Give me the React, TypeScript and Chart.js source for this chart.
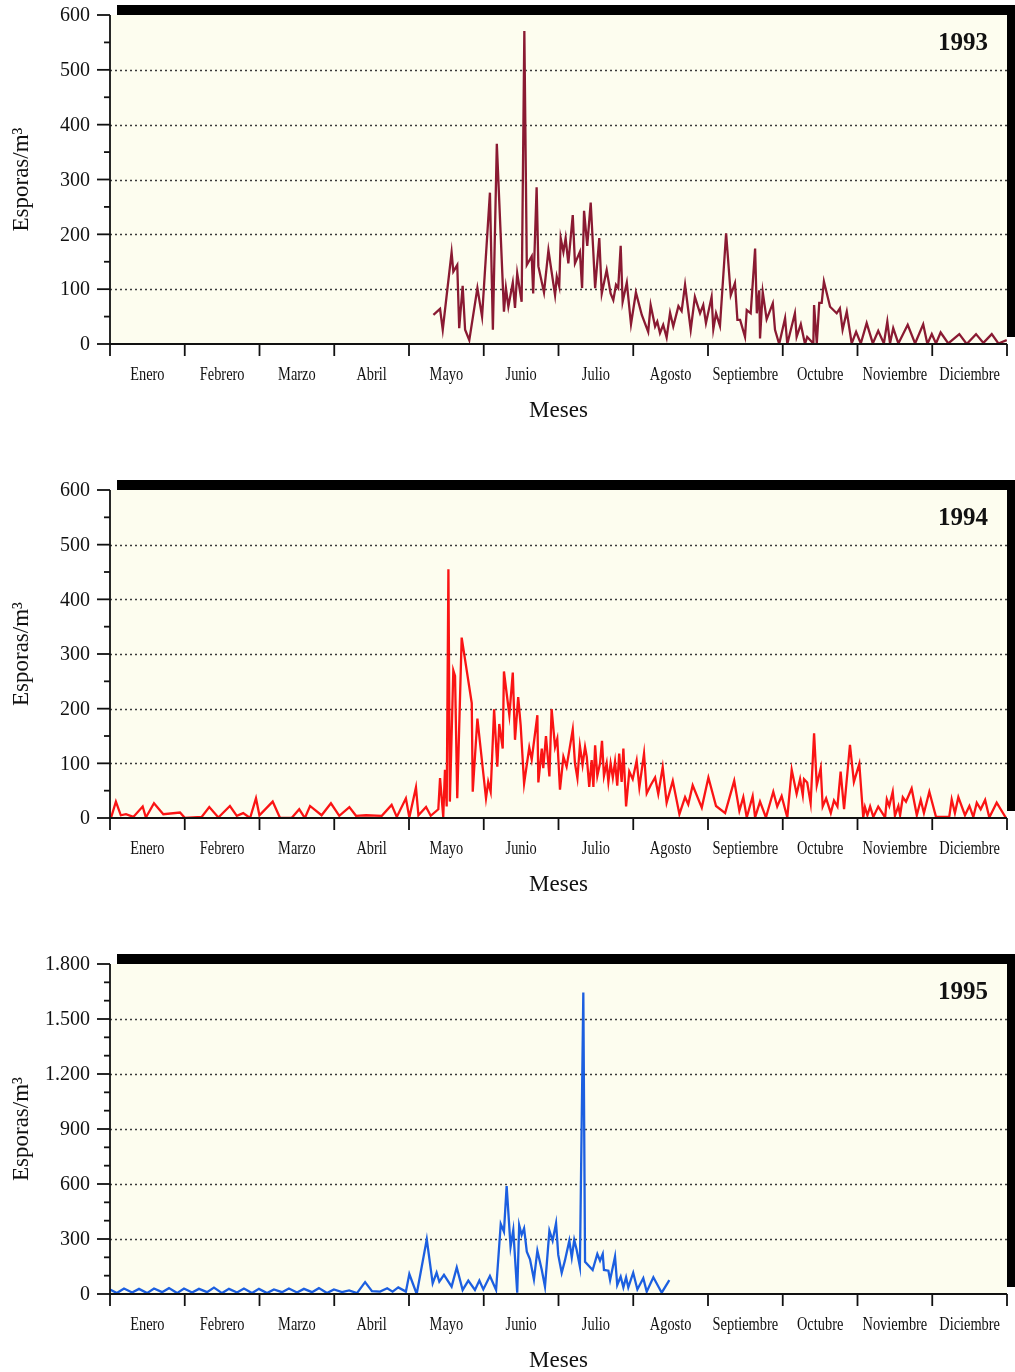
import React, { useEffect, useRef } from "react";
import { Chart, registerables } from "chart.js";
Chart.register(...registerables);

const MONTHS = ["Enero", "Febrero", "Marzo", "Abril", "Mayo", "Junio", "Julio", "Agosto", "Septiembre", "Octubre", "Noviembre", "Diciembre"];
const X_TITLE = "Meses";
const Y_TITLE = "Esporas/m³";
const YEAR_DAYS = 365;

const TICKS_600 = [0, 100, 200, 300, 400, 500, 600];
const TICKS_1800 = [0, 300, 600, 900, 1200, 1500, 1800];

// [day of year, spores/m3]
const DATA_1993: number[][] = [
  [131.6, 53], [134.3, 64], [135.4, 26], [139.0, 167], [139.7, 132], [141.3, 144], [142.1, 29], [143.5, 106], [144.5, 26], [146.2, 7],
  [149.5, 102], [151.4, 50], [154.6, 276], [155.8, 26], [157.4, 365], [160.3, 59], [161.1, 102], [162.1, 68], [163.9, 112], [164.8, 66],
  [165.7, 129], [167.5, 77], [168.6, 571], [169.6, 144], [171.6, 160], [172.2, 92], [173.6, 286], [174.3, 142], [176.6, 94], [178.4, 171],
  [181.1, 89], [181.8, 123], [182.8, 105], [183.4, 193], [184.5, 168], [185.4, 193], [186.5, 147], [188.3, 235], [189.2, 147], [191.2, 168],
  [192.1, 102], [192.9, 243], [194.2, 179], [195.6, 258], [196.7, 165], [197.4, 102], [199.1, 193], [200.1, 92], [202.1, 135], [203.7, 92],
  [204.8, 80], [205.9, 108], [206.8, 102], [207.8, 179], [208.6, 77], [210.3, 112], [212.0, 36], [214.0, 94], [216.4, 53], [219.0, 22],
  [220.0, 71], [221.8, 32], [222.7, 41], [223.8, 20], [225.1, 35], [226.5, 12], [227.9, 57], [229.2, 32], [231.3, 69], [232.6, 60],
  [234.0, 108], [236.3, 26], [238.0, 86], [240.1, 56], [241.4, 71], [242.5, 38], [244.8, 86], [245.5, 27], [246.6, 56], [248.2, 33],
  [250.7, 202], [252.6, 89], [254.3, 111], [255.3, 44], [256.4, 44], [258.4, 13], [259.1, 62], [260.7, 56], [262.5, 174], [263.2, 56],
  [264.2, 98], [264.5, 10], [265.6, 95], [267.2, 45], [269.7, 74], [270.6, 26], [272.3, 0], [274.7, 47], [275.6, 0], [278.7, 56],
  [279.4, 13], [281.1, 36], [282.8, 0], [283.7, 13], [286.2, 1], [286.5, 71], [287.6, 1], [288.6, 75], [289.6, 75], [290.5, 114],
  [293.0, 68], [295.7, 56], [297.0, 65], [298.1, 26], [299.8, 59], [301.8, 1], [303.6, 22], [305.5, 1], [307.9, 38], [310.4, 1],
  [312.6, 24], [314.9, 1], [316.3, 41], [317.4, 1], [318.7, 29], [320.8, 1], [324.6, 35], [327.6, 1], [330.9, 36], [332.6, 0],
  [334.4, 18], [336.1, 1], [338.0, 21], [341.1, 1], [345.6, 18], [348.6, 0], [352.4, 18], [355.4, 2], [358.8, 18], [361.5, 1], [364.9, 7],
];

const DATA_1994: number[][] = [
  [0.4, 0], [2.4, 30], [4.4, 5], [6.5, 7], [9.5, 2], [13.3, 21], [14.6, 1], [17.9, 27], [21.7, 7], [28.5, 10],
  [30.5, 0], [37.3, 2], [40.4, 20], [44.1, 1], [48.8, 22], [51.6, 4], [54.2, 9], [57.0, 0], [59.4, 36], [60.8, 5],
  [66.2, 30], [69.2, 0], [73.9, 0], [77.0, 16], [79.3, 0], [81.4, 22], [86.1, 5], [89.9, 27], [93.3, 4], [97.4, 20],
  [100.1, 4], [104.2, 5], [110.6, 4], [114.6, 24], [116.7, 2], [120.4, 36], [121.8, 1], [124.5, 56], [125.5, 5], [128.6, 20],
  [130.5, 4], [133.6, 16], [134.3, 73], [135.6, 2], [136.3, 88], [137.0, 21], [137.7, 455], [138.3, 30], [139.7, 270], [140.4, 260],
  [141.3, 36], [143.1, 330], [147.2, 210], [147.6, 48], [149.5, 182], [153.0, 36], [153.9, 66], [154.9, 48], [156.3, 199], [157.6, 94],
  [158.4, 172], [159.8, 127], [160.3, 268], [162.5, 188], [163.9, 266], [164.8, 143], [166.1, 221], [167.1, 170], [168.5, 63], [170.6, 129],
  [171.6, 107], [173.9, 188], [174.3, 65], [175.7, 127], [176.3, 91], [177.4, 150], [178.8, 76], [179.7, 199], [181.1, 130], [182.0, 145],
  [183.1, 52], [184.5, 112], [185.8, 94], [188.3, 162], [189.2, 100], [190.2, 73], [191.2, 132], [192.3, 97], [193.3, 130], [194.0, 112],
  [195.0, 57], [196.0, 106], [196.7, 57], [197.4, 133], [198.3, 77], [199.4, 100], [200.2, 141], [201.0, 77], [202.1, 100], [202.8, 66],
  [203.7, 100], [204.6, 74], [205.5, 103], [206.4, 59], [207.2, 118], [208.2, 66], [208.9, 127], [210.0, 21], [211.3, 85], [212.7, 71],
  [214.3, 105], [215.4, 56], [217.3, 118], [218.4, 45], [220.0, 60], [221.8, 74], [223.1, 44], [224.9, 93], [226.5, 28], [229.0, 68],
  [231.7, 7], [234.0, 38], [235.3, 25], [237.1, 60], [240.8, 19], [243.5, 74], [246.6, 22], [250.3, 9], [254.0, 68], [256.1, 13],
  [257.7, 38], [259.1, 1], [261.5, 40], [262.5, 1], [264.5, 30], [266.9, 1], [269.9, 48], [271.5, 21], [273.3, 40], [275.6, 1],
  [277.4, 88], [279.4, 44], [280.8, 71], [281.9, 42], [282.4, 71], [283.7, 65], [285.1, 27], [286.5, 155], [287.6, 60], [289.2, 91],
  [290.0, 21], [291.4, 36], [293.3, 9], [294.6, 32], [296.0, 21], [297.3, 85], [298.7, 16], [301.1, 134], [302.7, 66], [304.9, 99],
  [306.5, 1], [307.2, 20], [308.2, 5], [309.3, 21], [310.6, 2], [312.6, 21], [315.4, 1], [316.1, 34], [317.1, 22], [318.5, 48],
  [319.4, 4], [320.8, 22], [321.5, 5], [322.6, 38], [323.9, 30], [326.2, 54], [328.3, 5], [329.9, 33], [331.2, 9], [333.4, 48],
  [336.1, 2], [341.5, 2], [342.5, 34], [343.8, 9], [345.2, 38], [347.9, 5], [349.7, 22], [351.3, 2], [352.7, 28], [354.3, 16],
  [356.1, 33], [357.8, 1], [360.8, 28], [364.6, 0],
];

const DATA_1995: number[][] = [
  [0.0, 25], [2.8, 5], [5.7, 30], [9.0, 8], [11.8, 28], [15.1, 5], [17.9, 30], [21.2, 10], [24.0, 32], [27.3, 5],
  [30.1, 30], [33.4, 8], [36.2, 28], [39.5, 10], [42.3, 35], [45.6, 5], [48.4, 28], [51.7, 8], [54.5, 30], [57.8, 5],
  [60.6, 28], [63.9, 5], [66.7, 25], [70.0, 10], [72.8, 30], [76.1, 8], [78.9, 28], [82.2, 10], [85.0, 32], [88.3, 5],
  [91.1, 25], [94.4, 10], [97.3, 20], [100.5, 5], [103.8, 65], [106.6, 15], [109.9, 13], [112.8, 31], [115.0, 13], [117.3, 36],
  [120.4, 13], [121.8, 109], [124.8, 0], [128.9, 298], [131.3, 58], [132.9, 116], [134.0, 67], [135.9, 104], [139.0, 40], [141.1, 145],
  [143.5, 22], [145.8, 73], [148.5, 22], [150.3, 73], [151.9, 25], [154.6, 98], [157.1, 22], [159.0, 382], [160.3, 340], [161.4, 589],
  [163.0, 258], [164.1, 349], [165.7, 7], [166.5, 376], [167.5, 322], [168.5, 358], [169.6, 231], [170.9, 189], [172.5, 80], [173.9, 236],
  [175.7, 131], [177.0, 40], [178.8, 345], [180.1, 291], [181.5, 386], [182.4, 213], [183.8, 116], [185.1, 182], [186.9, 291], [187.9, 200],
  [188.9, 295], [189.9, 240], [191.2, 149], [192.6, 1645], [193.3, 176], [196.4, 131], [198.3, 218], [199.4, 182], [200.5, 218], [201.0, 131],
  [202.8, 127], [203.5, 76], [205.5, 204], [206.4, 49], [207.8, 95], [208.9, 36], [210.0, 91], [210.9, 36], [212.9, 116], [214.6, 25],
  [217.0, 86], [218.4, 13], [221.1, 91], [224.5, 7], [227.6, 76],
];

type Panel = {
  year: string;
  data: number[][];
  color: string;
  ticks: number[];
  minorStep: number;
  height: number;
  top: number;
  bottom: number;
};

const PANELS: Panel[] = [
  { year: "1993", data: DATA_1993, color: "#8a1a32", ticks: TICKS_600, minorStep: 50, height: 475, top: 15, bottom: 344 },
  { year: "1994", data: DATA_1994, color: "#fa1414", ticks: TICKS_600, minorStep: 50, height: 475, top: 15, bottom: 343 },
  { year: "1995", data: DATA_1995, color: "#1c5fe0", ticks: TICKS_1800, minorStep: 100, height: 422, top: 14, bottom: 344 },
];

const SERIF = '"Liberation Serif", "Times New Roman", "DejaVu Serif", serif';

function fmt(v: number): string {
  if (v >= 1000) return Math.floor(v / 1000) + "." + String(v % 1000).padStart(3, "0");
  return String(v);
}

function makePlugin(p: Panel) {
  const max = p.ticks[p.ticks.length - 1];
  return {
    id: "decor",
    beforeDraw(chart: any) {
      const { ctx, chartArea: a } = chart;
      const ys = chart.scales.y;
      ctx.save();
      ctx.fillStyle = "#000";
      ctx.fillRect(a.left + 7, a.top - 10, a.right - a.left + 1, a.bottom - a.top + 3);
      ctx.fillStyle = "#fdfdef";
      ctx.fillRect(a.left, a.top, a.right - a.left, a.bottom - a.top);
      ctx.strokeStyle = "#3a3a3a";
      ctx.lineWidth = 1.4;
      ctx.setLineDash([2, 3]);
      p.ticks.forEach((v) => {
        if (v <= 0 || v >= max) return;
        const y = Math.round(ys.getPixelForValue(v)) + 0.5;
        ctx.beginPath();
        ctx.moveTo(a.left, y);
        ctx.lineTo(a.right, y);
        ctx.stroke();
      });
      ctx.restore();
    },
    afterDraw(chart: any) {
      const { ctx, chartArea: a } = chart;
      const ys = chart.scales.y;
      const xs = chart.scales.x;
      ctx.save();
      ctx.strokeStyle = "#111";
      ctx.lineWidth = 1.8;
      ctx.setLineDash([]);
      // axes
      ctx.beginPath();
      ctx.moveTo(a.left, a.top);
      ctx.lineTo(a.left, a.bottom);
      ctx.lineTo(a.right, a.bottom);
      ctx.stroke();
      // y ticks
      for (let v = 0; v <= max; v += p.minorStep) {
        const y = ys.getPixelForValue(v);
        const major = p.ticks.includes(v);
        ctx.beginPath();
        ctx.moveTo(a.left - (major ? 13 : 6), y);
        ctx.lineTo(a.left, y);
        ctx.stroke();
      }
      ctx.fillStyle = "#111";
      ctx.font = "20px " + SERIF;
      ctx.textAlign = "right";
      ctx.textBaseline = "middle";
      p.ticks.forEach((v) => {
        ctx.fillText(fmt(v), a.left - 20, ys.getPixelForValue(v) + 1);
      });
      // x month ticks
      for (let i = 0; i <= 12; i++) {
        const x = xs.getPixelForValue((i * YEAR_DAYS) / 12);
        ctx.beginPath();
        ctx.moveTo(x, a.bottom);
        ctx.lineTo(x, a.bottom + 12);
        ctx.stroke();
      }
      ctx.font = "18px " + SERIF;
      ctx.textAlign = "center";
      ctx.textBaseline = "middle";
      MONTHS.forEach((m, i) => {
        const x = xs.getPixelForValue(((i + 0.5) * YEAR_DAYS) / 12);
        ctx.save();
        ctx.translate(x, a.bottom + 31);
        ctx.scale(0.8, 1);
        ctx.fillText(m, 0, 0);
        ctx.restore();
      });
      // x title
      ctx.font = "23px " + SERIF;
      ctx.fillText(X_TITLE, (a.left + a.right) / 2, a.bottom + 67);
      // y title
      ctx.save();
      ctx.translate(22, (a.top + a.bottom) / 2);
      ctx.rotate(-Math.PI / 2);
      ctx.fillText(Y_TITLE, 0, 0);
      ctx.restore();
      // year
      ctx.font = "bold 25px " + SERIF;
      ctx.textAlign = "right";
      ctx.fillText(p.year, a.right - 19, a.top + 29);
      ctx.restore();
    },
  };
}

function PanelChart({ p }: { p: Panel }) {
  const ref = useRef<HTMLCanvasElement>(null);
  useEffect(() => {
    if (!ref.current) return;
    const max = p.ticks[p.ticks.length - 1];
    const chart = new Chart(ref.current, {
      type: "line",
      data: {
        datasets: [
          {
            data: p.data.map(([x, y]) => ({ x, y })),
            borderColor: p.color,
            borderWidth: 2.3,
            pointRadius: 0,
            tension: 0,
            fill: false,
          },
        ],
      },
      options: {
        responsive: false,
        maintainAspectRatio: false,
        animation: false,
        events: [],
        layout: { padding: { left: 110, right: 8, top: p.top, bottom: p.height - p.bottom } },
        plugins: { legend: { display: false }, tooltip: { enabled: false } },
        scales: {
          x: { type: "linear", min: 0, max: YEAR_DAYS, display: false },
          y: { min: 0, max, display: false },
        },
      },
      plugins: [makePlugin(p) as any],
    } as any);
    return () => chart.destroy();
  }, [p]);
  return <canvas ref={ref} width={1015} height={p.height} style={{ display: "block", width: 1015, height: p.height }} />;
}

export default function App() {
  return (
    <div style={{ position: "absolute", left: 0, top: 0, width: 1015, background: "#fff" }}>
      {PANELS.map((p) => (
        <PanelChart key={p.year} p={p} />
      ))}
    </div>
  );
}
